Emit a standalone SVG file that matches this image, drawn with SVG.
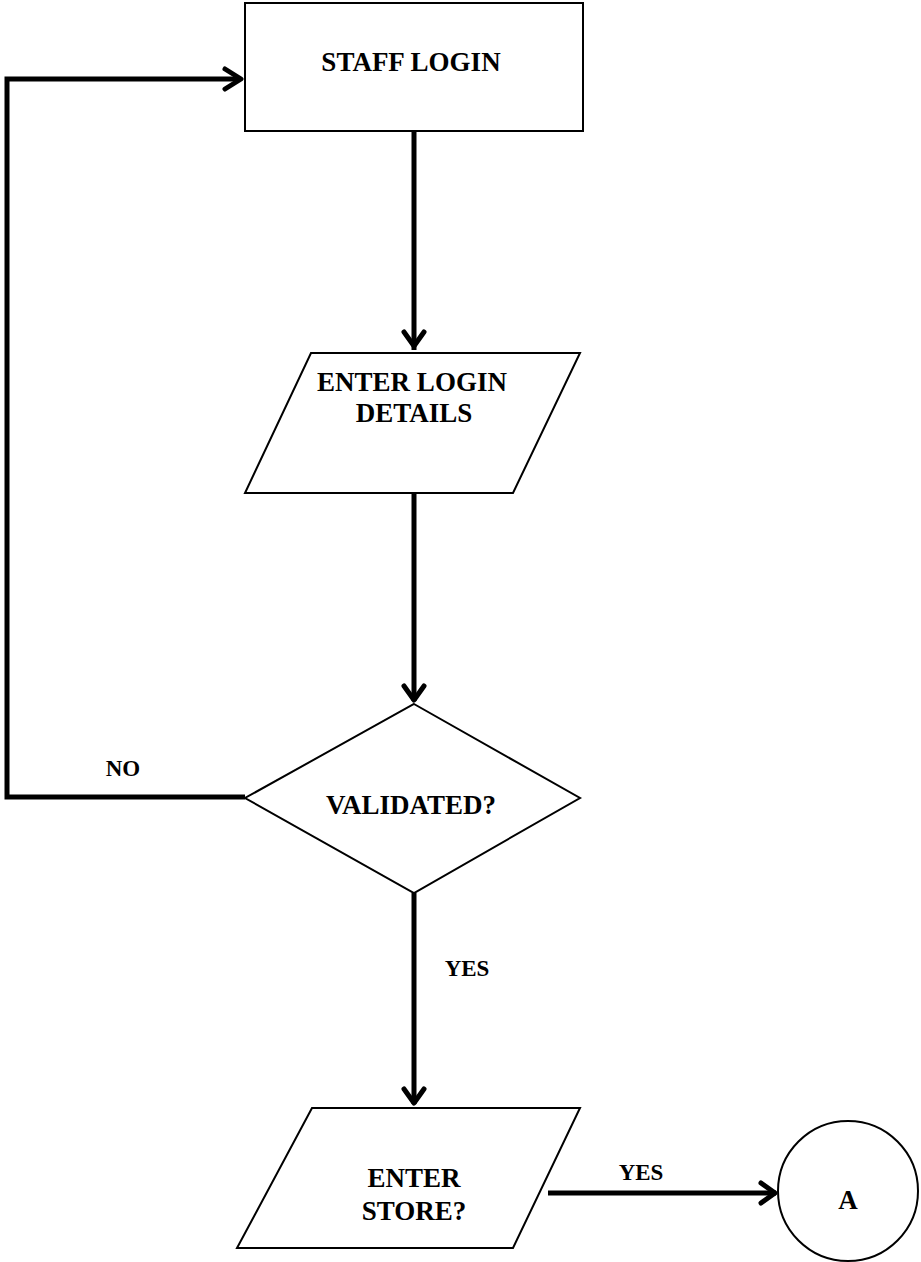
<svg xmlns="http://www.w3.org/2000/svg" width="921" height="1262" viewBox="0 0 921 1262">
  <style>
    .shape { fill: #fff; stroke: #000; stroke-width: 2; }
    .edge { fill: none; stroke: #000; stroke-width: 5; }
    .head { fill: none; stroke: #000; stroke-width: 5; stroke-linecap: round; stroke-linejoin: round; }
    text { font-family: "Liberation Serif", "Times New Roman", serif; font-weight: bold; fill: #000; text-anchor: middle; }
    .node-label { font-size: 27px; }
    .edge-label { font-size: 23px; }
  </style>
  <rect width="921" height="1262" fill="#fff"/>

  <g id="connectors">
    <!-- staff login -> enter login details -->
    <line class="edge" x1="414" y1="131" x2="414" y2="350"/>
    <polyline class="head" points="404,332 414,346 424,332"/>
    <!-- enter login details -> validated? -->
    <line class="edge" x1="414" y1="493" x2="414" y2="701"/>
    <polyline class="head" points="404,686 414,700 424,686"/>
    <!-- NO loop back to staff login -->
    <polyline class="edge" points="245,797 7,797 7,79 241,79"/>
    <polyline class="head" points="225,69 241,79 225,89"/>
    <!-- YES: validated? -> enter store? -->
    <line class="edge" x1="414" y1="893" x2="414" y2="1104"/>
    <polyline class="head" points="404,1089 414,1103 424,1089"/>
    <!-- YES: enter store? -> A -->
    <line class="edge" x1="548" y1="1193" x2="776" y2="1193"/>
    <polyline class="head" points="761,1183 775,1193 761,1203"/>
    <text class="edge-label" x="123" y="776">NO</text>
    <text class="edge-label" x="467" y="976">YES</text>
    <text class="edge-label" x="641" y="1180">YES</text>
  </g>

  <g id="staff-login">
    <rect class="shape" x="245" y="3" width="338" height="128"/>
    <text class="node-label" x="411" y="71">STAFF LOGIN</text>
  </g>

  <g id="enter-login-details">
    <polygon class="shape" points="311,353 580,353 513,493 245,493"/>
    <text class="node-label" x="412" y="391">ENTER LOGIN</text>
    <text class="node-label" x="414" y="422">DETAILS</text>
  </g>

  <g id="validated">
    <polygon class="shape" points="414,704 580,798 414,893 245,798"/>
    <text class="node-label" x="411" y="814">VALIDATED?</text>
  </g>

  <g id="enter-store">
    <polygon class="shape" points="312,1108 580,1108 513,1248 237,1248"/>
    <text class="node-label" x="414" y="1187">ENTER</text>
    <text class="node-label" x="414" y="1220">STORE?</text>
  </g>

  <g id="connector-a">
    <ellipse class="shape" cx="848" cy="1191" rx="70" ry="70"/>
    <text class="node-label" x="848" y="1209">A</text>
  </g>
</svg>
